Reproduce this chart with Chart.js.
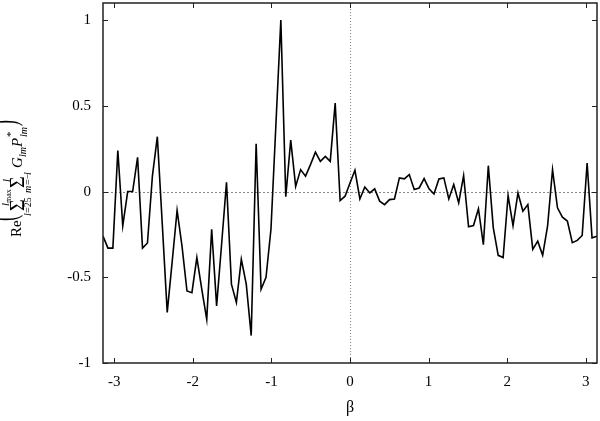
<!DOCTYPE html>
<html>
<head>
<meta charset="utf-8">
<script src="https://cdn.jsdelivr.net/npm/chart.js@4.4.1/dist/chart.umd.min.js"></script>
<style>
  html, body { margin: 0; padding: 0; background: #fff; }
  #chart { display: block; }
</style>
</head>
<body>
<canvas id="chart" width="600" height="421"></canvas>
<script>
// ---- Data ----
const betaMin = -Math.PI;
const betaMax = Math.PI;
const reSum = [
  -0.26, -0.33, -0.33, 0.24, -0.2, 0.0, 0.0, 0.2, -0.33, -0.3,
  0.09, 0.32, -0.19, -0.705, -0.41, -0.11, -0.32, -0.58, -0.59, -0.385,
  -0.57, -0.745, -0.22, -0.667, -0.31, 0.054, -0.54, -0.647, -0.395, -0.54,
  -0.84, 0.279, -0.57, -0.5, -0.22, 0.39, 1.0, -0.03, 0.3, 0.03,
  0.128, 0.09, 0.157, 0.23, 0.176, 0.205, 0.176, 0.516, -0.052, -0.027,
  0.05, 0.124, -0.043, 0.027, -0.008, 0.016, -0.056, -0.076, -0.047, -0.043,
  0.08, 0.074, 0.099, 0.012, 0.021, 0.076, 0.016, -0.014, 0.074, 0.08,
  -0.043, 0.041, -0.066, 0.093, -0.205, -0.198, -0.1, -0.31, 0.151, -0.21,
  -0.372, -0.385, -0.023, -0.198, -0.008, -0.114, -0.076, -0.337, -0.289, -0.372,
  -0.2, 0.128, -0.095, -0.149, -0.172, -0.298, -0.285, -0.256, 0.167, -0.27,
  -0.26
];
const xTicks = [-3, -2, -1, 0, 1, 2, 3];
const yTicks = [-1, -0.5, 0, 0.5, 1];
const yMin = -1;
const yMax = 1.1;

// samples are evenly spaced over [-pi, pi]
const points = reSum.map((v, i) => ({
  x: betaMin + (betaMax - betaMin) * i / (reSum.length - 1),
  y: v,
}));

const SERIF = "'Liberation Serif', 'DejaVu Serif', serif";
Chart.defaults.font.family = SERIF;
Chart.defaults.font.size = 15;
Chart.defaults.color = '#000';

// ---- Frame, inward ticks, zero lines, y title ----
const framePlugin = {
  id: 'frame',
  beforeDatasetsDraw(chart) {
    const { ctx, chartArea: a, scales: { x, y } } = chart;
    ctx.save();
    ctx.strokeStyle = '#888';
    ctx.lineWidth = 1;
    ctx.setLineDash([2, 2]);
    const y0 = Math.round(y.getPixelForValue(0)) + 0.5;
    ctx.beginPath(); ctx.moveTo(a.left, y0); ctx.lineTo(a.right, y0); ctx.stroke();
    ctx.setLineDash([1, 2]);
    const x0 = Math.round(x.getPixelForValue(0)) + 0.5;
    ctx.beginPath(); ctx.moveTo(x0, a.top); ctx.lineTo(x0, a.bottom); ctx.stroke();
    ctx.restore();
  },
  afterDatasetsDraw(chart) {
    const { ctx, chartArea: a, scales: { x, y } } = chart;
    const tl = 5;
    ctx.save();
    ctx.strokeStyle = '#222';
    ctx.lineWidth = 1.5;
    ctx.strokeRect(a.left, a.top, a.right - a.left, a.bottom - a.top);
    ctx.lineWidth = 1;
    ctx.beginPath();
    xTicks.forEach(v => {
      const px = Math.round(x.getPixelForValue(v)) + 0.5;
      ctx.moveTo(px, a.bottom); ctx.lineTo(px, a.bottom - tl);
      ctx.moveTo(px, a.top); ctx.lineTo(px, a.top + tl);
    });
    yTicks.forEach(v => {
      const py = Math.round(y.getPixelForValue(v)) + 0.5;
      ctx.moveTo(a.left, py); ctx.lineTo(a.left + tl, py);
      ctx.moveTo(a.right, py); ctx.lineTo(a.right - tl, py);
    });
    ctx.stroke();

    // y title: Re( sum_{l=25}^{lmax} sum_{m=-l}^{l} G_lm P*_lm ), rotated
    ctx.rotate(-Math.PI / 2);
    ctx.fillStyle = '#000';
    ctx.textBaseline = 'alphabetic';
    const put = (txt, sy, sx, font) => { ctx.font = font; ctx.fillText(txt, -sy, sx); };
    const paren = (txt, sy, sx) => {
      ctx.save();
      ctx.translate(-sy, sx);
      ctx.scale(1, 2.1);
      ctx.font = `18px ${SERIF}`;
      ctx.fillText(txt, 0, 0);
      ctx.restore();
    };
    put('Re', 237, 21, `15px ${SERIF}`);
    paren('(', 221, 15);
    put('\u03A3', 211, 24, `20px ${SERIF}`);
    put('l', 206, 9, `italic 11px ${SERIF}`);
    put('max', 203, 11, `8px ${SERIF}`);
    put('l', 216, 31, `italic 10px ${SERIF}`);
    put('=25', 213, 31, `10px ${SERIF}`);
    put('\u03A3', 188, 24, `20px ${SERIF}`);
    put('l', 182, 10, `italic 11px ${SERIF}`);
    put('m', 193, 31, `italic 10px ${SERIF}`);
    put('=\u2212', 185, 31, `10px ${SERIF}`);
    put('l', 175, 31, `italic 10px ${SERIF}`);
    put('G', 168, 22, `italic 15px ${SERIF}`);
    put('lm', 157, 26, `italic 10px ${SERIF}`);
    put('P', 147, 22, `italic 15px ${SERIF}`);
    put('*', 137, 14, `11px ${SERIF}`);
    put('lm', 137, 27, `italic 10px ${SERIF}`);
    paren(')', 126, 15);
    ctx.restore();
  }
};

new Chart(document.getElementById('chart'), {
  type: 'line',
  data: {
    datasets: [{
      data: points,
      borderColor: '#000',
      borderWidth: 1.6,
      pointRadius: 0,
      tension: 0,
      fill: false,
    }]
  },
  options: {
    responsive: false,
    animation: false,
    parsing: false,
    layout: { padding: { left: 0, right: 3, top: 3, bottom: 0 } },
    plugins: { legend: { display: false }, tooltip: { enabled: false } },
    scales: {
      x: {
        type: 'linear',
        min: betaMin,
        max: betaMax,
        grid: { display: false, drawTicks: false, tickLength: 0 },
        border: { display: false },
        afterBuildTicks: s => { s.ticks = xTicks.map(v => ({ value: v })); },
        afterFit: s => { s.height = 58; s.paddingLeft = 0; s.paddingRight = 0; },
        ticks: { padding: 10, font: { size: 15 }, callback: v => String(v) },
        title: { display: true, text: '\u03B2', font: { size: 16 }, padding: { top: 9 } },
      },
      y: {
        min: yMin,
        max: yMax,
        grid: { display: false, drawTicks: false, tickLength: 0 },
        border: { display: false },
        afterBuildTicks: s => { s.ticks = yTicks.map(v => ({ value: v })); },
        afterFit: s => { s.width = 103; s.paddingTop = 0; s.paddingBottom = 0; },
        ticks: { padding: 12, font: { size: 15 }, callback: v => String(v) },
      }
    }
  },
  plugins: [framePlugin]
});
</script>
</body>
</html>
